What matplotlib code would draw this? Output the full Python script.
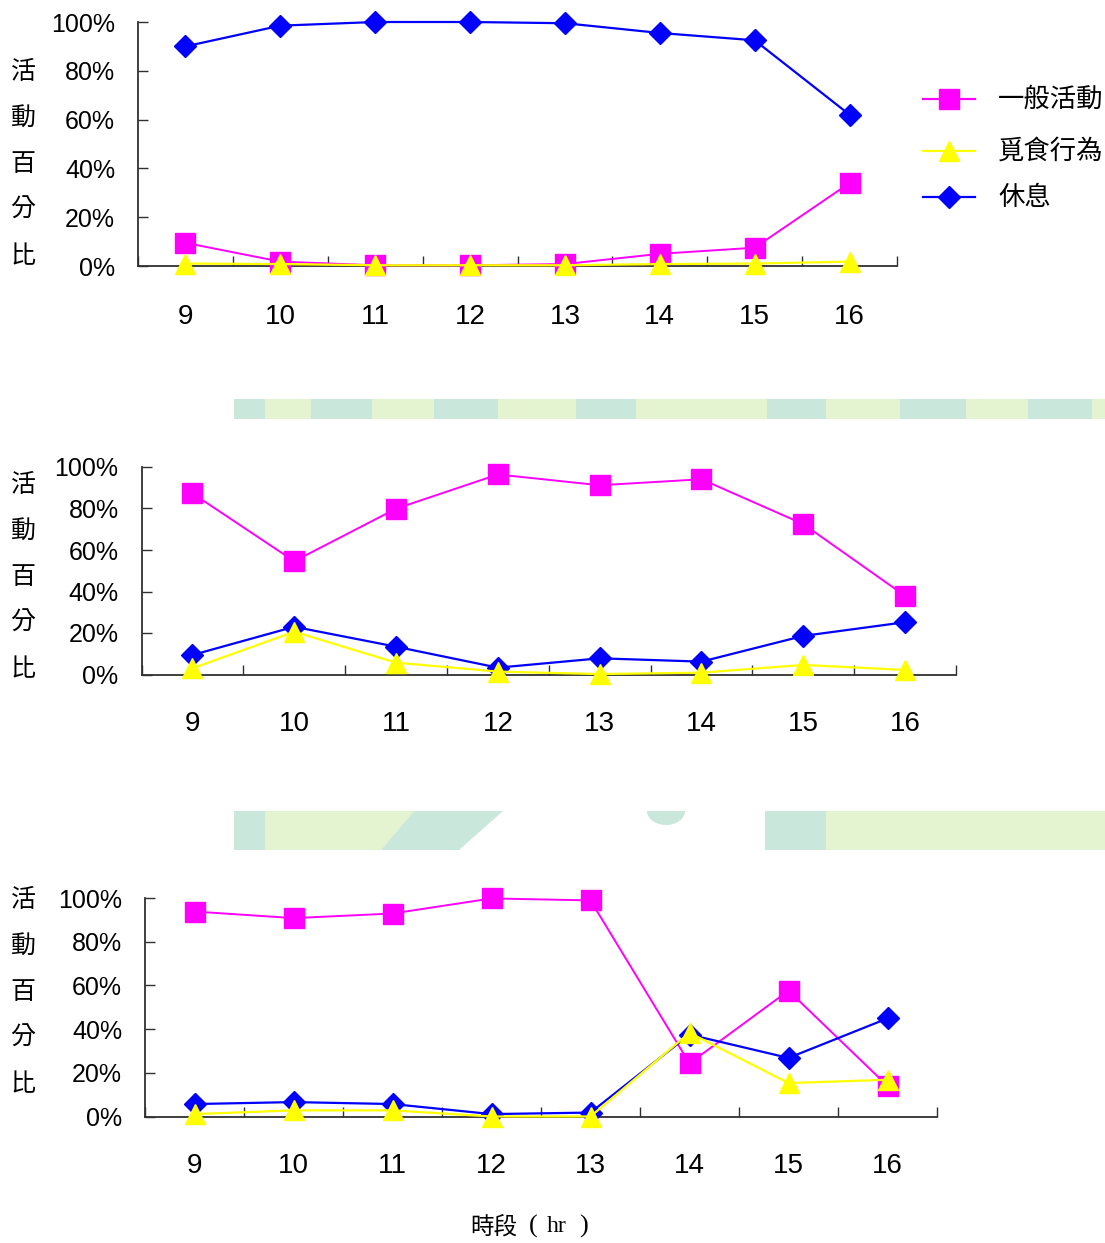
import numpy as np
import matplotlib
matplotlib.use("Agg")
import matplotlib.pyplot as plt
from matplotlib import font_manager
from matplotlib.lines import Line2D
from matplotlib.patches import Rectangle, Polygon, Ellipse

# ---- data (percent of activity per hour) ----
hours = [9, 10, 11, 12, 13, 14, 15, 16]
series_names = ["一般活動", "覓食行為", "休息"]

general_1 = [9.5, 1.8, 0.3, 0.3, 0.8, 5, 7.5, 34]
forage_1 = [1, 0.8, 0.3, 0.3, 0.3, 0.8, 1, 1.8]
rest_1 = [90, 98.5, 100, 100, 99.5, 95.5, 92.5, 62]

general_2 = [87.3, 54.6, 79.9, 96.4, 91.2, 94.1, 72.5, 37.9]
forage_2 = [3, 20.6, 5.7, 1.4, 0.2, 0.9, 4.6, 2.2]
rest_2 = [9.4, 23, 13.4, 3.3, 7.8, 6.2, 18.6, 25.2]

general_3 = [93.8, 90.8, 92.9, 99.8, 98.9, 24.3, 57.6, 14]
forage_3 = [1.1, 2.8, 2.8, 0, 0, 38.3, 15.3, 16.8]
rest_3 = [5.7, 6.6, 5.7, 1.1, 1.8, 37.5, 26.8, 44.9]

# ---- layout (pixels) ----
W, H = 1105, 1243
MAGENTA, YELLOW, BLUE = "#ff00ff", "#ffff00", "#0000ff"
TEAL, LIME = "#c9e7da", "#e4f3d0"

names = {f.name for f in font_manager.fontManager.ttflist}
NUM_FONT = "Liberation Sans Narrow" if "Liberation Sans Narrow" in names else "Liberation Sans"
NUM_SIZE = 21.5 if NUM_FONT == "Liberation Sans Narrow" else 18
X_SIZE = NUM_SIZE + 2
CJK = ["Noto Sans CJK TC", "DejaVu Sans"]

fig = plt.figure(figsize=(W / 100, H / 100), dpi=100)

# full-figure pixel canvas for decoration and free text
bg = fig.add_axes([0, 0, 1, 1], zorder=-1)
bg.set_xlim(0, W)
bg.set_ylim(H, 0)
bg.axis("off")

# pale slide stripes between the panels
edges_1 = [234, 265, 311, 372, 434, 498, 576, 636, 767, 826, 900, 966, 1028, 1092, 1105]
for i in range(len(edges_1) - 1):
    bg.add_patch(Rectangle((edges_1[i], 399), edges_1[i + 1] - edges_1[i], 20,
                           color=TEAL if i % 2 == 0 else LIME, lw=0))

bg.add_patch(Rectangle((234, 811), 31, 39, color=TEAL, lw=0))
bg.add_patch(Polygon([(265, 811), (414, 811), (381, 850), (265, 850)], color=LIME, lw=0))
bg.add_patch(Polygon([(414, 811), (503, 811), (459, 850), (381, 850)], color=TEAL, lw=0))
blob = Ellipse((666, 811), 38, 28, color=TEAL, lw=0)
bg.add_patch(blob)
blob.set_clip_path(Rectangle((234, 811), 871, 39, transform=bg.transData))
bg.add_patch(Rectangle((765, 811), 61, 39, color=TEAL, lw=0))
bg.add_patch(Rectangle((826, 811), 279, 39, color=LIME, lw=0))


def add_panel(box, general, forage, rest, label_top, xpad):
    left, right, top, bottom = box
    ax = fig.add_axes([left / W, 1 - bottom / H, (right - left) / W, (bottom - top) / H])
    ax.patch.set_alpha(0)
    x = np.arange(len(hours))

    ax.plot(x, general, color=MAGENTA, lw=1.4, marker="s", ms=14.5,
            mec=MAGENTA, clip_on=False, zorder=3)
    ax.plot(x, rest, color=BLUE, lw=1.6, marker="D", ms=11,
            mec=BLUE, clip_on=False, zorder=4)
    ax.plot(x, forage, color=YELLOW, lw=1.6, marker="^", ms=15,
            mec=YELLOW, clip_on=False, zorder=5)

    ax.set_xlim(-0.5, len(hours) - 0.5)
    ax.set_ylim(0, 100)
    ax.set_yticks(range(0, 101, 20))
    ax.yaxis.set_major_formatter(lambda v, p: f"{v:.0f}%")
    ax.set_xticks(x)
    ax.set_xticklabels([str(h) for h in hours])
    ax.set_xticks(np.arange(-0.5, len(hours)), minor=True)

    ax.tick_params(axis="x", which="major", length=0, pad=xpad)
    ax.tick_params(axis="x", which="minor", direction="in", length=7.5,
                   width=1, color="#303030")
    ax.tick_params(axis="y", direction="in", length=7, width=1,
                   color="#303030", pad=16.5)
    for lab in ax.get_yticklabels():
        lab.set_fontfamily(NUM_FONT)
        lab.set_fontsize(NUM_SIZE)
    for lab in ax.get_xticklabels():
        lab.set_fontfamily(NUM_FONT)
        lab.set_fontsize(X_SIZE)

    for side in ["top", "right"]:
        ax.spines[side].set_visible(False)
    for side in ["left", "bottom"]:
        ax.spines[side].set_color("#303030")
        ax.spines[side].set_linewidth(1.3)

    # stacked vertical y label
    for i, ch in enumerate("活動百分比"):
        bg.text(23, label_top + 46 * i, ch, ha="center", va="center",
                fontsize=18, family=CJK)
    return ax


add_panel((138, 897, 22, 266), general_1, forage_1, rest_1, 72, 27.5)
add_panel((141.5, 956, 467, 674.5), general_2, forage_2, rest_2, 485, 26.5)
add_panel((145, 937, 898, 1116.5), general_3, forage_3, rest_3, 900, 26)

# legend drawn by hand to keep the uneven spacing
legend_rows = [
    (series_names[0], MAGENTA, "s", 14.5, 99),
    (series_names[1], YELLOW, "^", 15, 151),
    (series_names[2], BLUE, "D", 11, 197),
]
for name, color, marker, ms, y in legend_rows:
    bg.add_line(Line2D([923, 949, 975], [y, y, y], color=color, lw=1.6,
                       marker=marker, ms=ms, mec=color, markevery=[1]))
    bg.text(998, y, name, ha="left", va="center", fontsize=19, family=CJK)

# x axis title
bg.text(470, 1227, "時段", ha="left", va="center", fontsize=17, family=CJK)
bg.text(533, 1226, "(", ha="center", va="center", fontsize=19, family="Liberation Serif")
bg.text(557, 1227, "hr", ha="center", va="center", fontsize=17, family="Liberation Serif")
bg.text(584, 1226, ")", ha="center", va="center", fontsize=19, family="Liberation Serif")

fig.savefig("out.png", dpi=100)
